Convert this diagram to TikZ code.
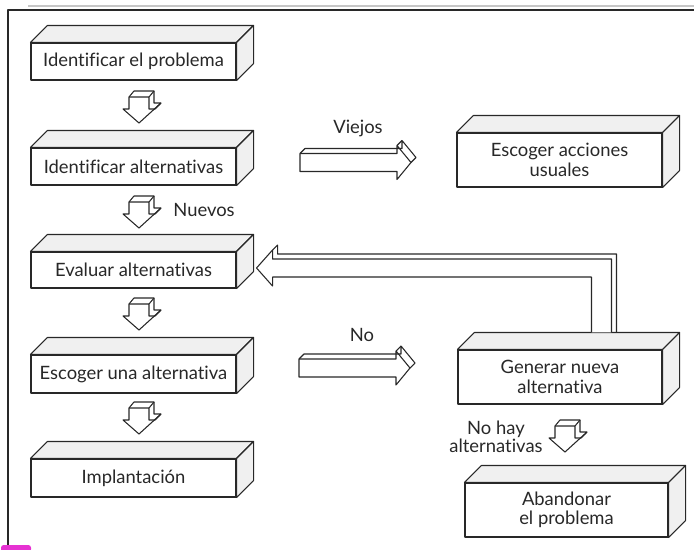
\documentclass[tikz,border=0pt]{standalone}
\usepackage{fontspec}
\setmainfont[RawFeature={-liga;-dlig}]{Lato}
\usetikzlibrary{calc}
\definecolor{ink}{RGB}{40,40,40}
\definecolor{blob}{RGB}{230,50,210}
\begin{document}
\begin{tikzpicture}[x=0.75pt,y=-0.75pt, line join=round,
  box/.style={draw=ink, line width=0.8pt, fill=white, minimum width=153.75pt, inner sep=0pt, align=center, font=\fontsize{13.8}{14.5}\selectfont, text=ink},
  face/.style={draw=ink, line width=0.8pt, fill=black!6},
  blk/.style={draw=ink, line width=0.8pt, fill=white},
  lbl/.style={font=\fontsize{13.8}{14.5}\selectfont, text=ink, align=center, inner sep=0pt},
  darr/.pic={
    \path[blk] (-10,-26) -- (-5,-32) -- (15,-32) -- (15,-20) -- (22,-20) -- (0,0) -- (-16,-14) -- (-10,-14) -- cycle;
    \draw[blk, fill=none] (-10,-26) -- (10,-26) -- (10,-14) -- (16,-14) -- (22,-20) (10,-26) -- (15,-32);
  },
  rarr/.pic={
    \path[blk] (-111,9) -- (-111,-9) -- (-106,-14) -- (-9,-14) -- (-9,-22) -- (5,-5) -- (0,0) -- (-14,17) -- (-14,9) -- cycle;
    \draw[blk, fill=none] (-111,-9) -- (-14,-9) -- (-14,-17) -- (0,0) (-14,-17) -- (-9,-22);
  }]
\useasboundingbox (0,0) rectangle (694,550);

% frame
\draw[gray!45, line width=1.8pt] (28,6) -- (694,6);
\draw[ink, line width=1pt] (694,10) -- (8,10) -- (8,550);
\fill[blob, rounded corners=2pt] (1,545) -- (1,552) -- (31,552) -- (31,545) -- cycle;

% boxes
\node[box, minimum height=27.75pt] (b1) at (133.5,61.5) {Identificar el problema};
\node[box, minimum height=27.75pt] (b2) at (133.5,166.5) {Identificar alternativas};
\node[box, minimum height=27pt] (b3) at (133.5,270) {Evaluar alternativas};
\node[box, minimum height=28.5pt] (b4) at (133.5,374) {Escoger una alternativa};
\node[box, minimum height=28.5pt] (b5) at (133.5,478) {Implantación};
\node[box, minimum height=40.5pt] (esc) at (559.5,160) {Escoger acciones\\usuales};
\node[box, minimum height=40.5pt, minimum width=153pt] (gen) at (560,377) {Generar nueva\\alternativa};
\node[box, minimum height=40.5pt, minimum width=152.25pt] (ab) at (566.5,510) {Abandonar\\el problema};

\foreach \n in {b1,b2,b3,b4,b5,esc,gen,ab} {
  \path[face] (\n.north west) -- ++(17,-17) -- ([shift={(17,-17)}]\n.north east) -- (\n.north east) -- cycle;
  \path[face] (\n.north east) -- ++(17,-17) -- ([shift={(17,-17)}]\n.south east) -- (\n.south east) -- cycle;
}

% down block arrows
\pic at (139,123) {darr};
\pic at (139,228) {darr};
\pic at (139,330) {darr};
\pic at (139,434) {darr};
\pic at (565,452) {darr};

% right block arrows
\pic at (411,162.5) {rarr};
\pic at (410,368) {rarr};

% feedback hollow arrow from gen to b3
\coordinate (fa) at ([shift={(154,-17)}]gen.north west);
\coordinate (fb) at ([shift={(134,-17)}]gen.north west);
\coordinate (ft) at ([shift={(20,-2)}]b3.east);
\path[blk] (fa) |- ([shift={(16,-9)}]ft) -- ++(0,-9) -- (ft) -- ++(16,18) -- ++(0,-9) -| (fb);
\draw[blk, fill=none] ([shift={(16,-18)}]ft) -- ++(5,-5) -- ++(0,9) -| ([shift={(5,0)}]fa);

% labels
\node[lbl] (lv) at (358,128) {Viejos};
\node[lbl] (ln) at (362,335) {No};
\node[lbl] (lnu) at (204,210) {Nuevos};
\node[lbl, font=\fontsize{13.8}{13.5}\selectfont] (lnh) at (496,437) {No hay\\alternativas};
\end{tikzpicture}
\end{document}
